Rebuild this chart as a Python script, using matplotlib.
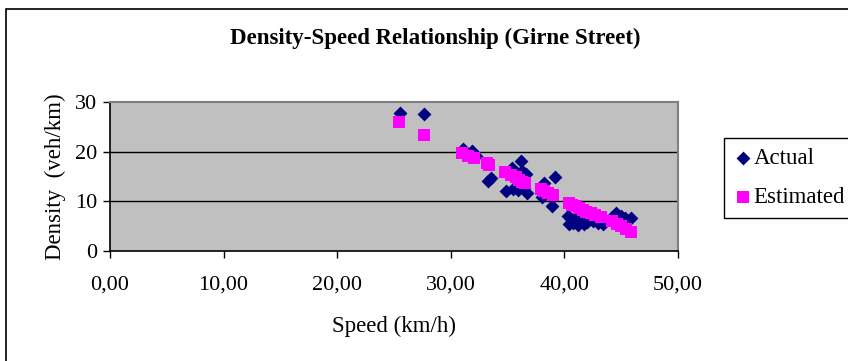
import matplotlib.pyplot as plt
from matplotlib.patches import Rectangle
from matplotlib.ticker import FuncFormatter

# data (speed km/h, density veh/km)
actual_speed = [25.5, 27.6, 31.1, 31.9, 32.2, 33.3, 33.5, 34.9, 35.4, 35.5,
                35.9, 36.2, 36.3, 36.4, 36.6, 36.7, 38.0, 38.2, 38.9, 39.2,
                40.3, 40.4, 40.6, 40.8, 41.0, 41.2, 41.4, 41.7, 42.0, 42.5,
                43.0, 43.4, 44.2, 44.5, 45.0, 45.3, 45.9]
actual_density = [27.7, 27.6, 20.5, 20.1, 19.2, 14.0, 14.6, 12.0, 16.6, 12.4,
                  12.2, 18.1, 16.0, 12.7, 15.5, 11.6, 10.9, 13.7, 9.0, 14.8,
                  7.1, 5.4, 6.3, 5.5, 6.6, 5.1, 5.8, 5.3, 5.7, 6.0,
                  5.5, 5.4, 6.8, 7.6, 7.1, 6.5, 6.6]

est_speed = [25.4, 27.6, 31.0, 31.5, 32.0, 33.2, 33.4, 34.8, 35.3, 35.7,
             36.0, 36.3, 36.5, 37.9, 38.2, 38.6, 39.0, 40.4, 40.7, 41.0,
             41.3, 41.6, 41.9, 42.3, 42.7, 43.2, 44.2, 44.6, 45.0, 45.4, 45.9]
est_density = [25.9, 23.4, 19.8, 19.2, 18.8, 17.6, 17.2, 15.8, 15.2, 14.8,
               14.3, 13.9, 13.6, 12.4, 12.0, 11.6, 11.2, 9.7, 9.3, 9.0,
               8.6, 8.2, 7.9, 7.6, 7.3, 6.8, 5.9, 5.4, 4.9, 4.4, 3.8]

x_ticks = [0, 10, 20, 30, 40, 50]
y_ticks = [0, 10, 20, 30]

plt.rcParams['font.family'] = 'Liberation Serif'

fig = plt.figure(figsize=(8.48, 3.61), dpi=100)
fig.patches.append(Rectangle((6/848, -0.05), 1.0, 1 - 9/361 + 0.05, transform=fig.transFigure,
                             fill=False, edgecolor='black', linewidth=1.2))

ax = fig.add_axes([110/848, 1 - 250.7/361, 568/848, 148.7/361])
ax.set_facecolor('#c0c0c0')

ax.scatter(actual_speed, actual_density, marker='D', s=50, color='#000080',
           linewidths=0, label='Actual', zorder=3)
ax.scatter(est_speed, est_density, marker='s', s=65, color='#ff00ff',
           linewidths=0, label='Estimated', zorder=4)

ax.set_xlim(0, 50)
ax.set_ylim(0, 30)
ax.set_xticks(x_ticks)
ax.set_yticks(y_ticks)
ax.xaxis.set_major_formatter(FuncFormatter(lambda v, p: f'{v:.2f}'.replace('.', ',')))
ax.tick_params(direction='out', length=5, width=1, labelsize=16, colors='black')
ax.tick_params(axis='x', pad=13)
ax.tick_params(axis='y', pad=4)

for y in [10, 20]:
    ax.axhline(y, color='black', linewidth=1, zorder=1)
ax.spines['top'].set_color('#808080')
ax.spines['right'].set_color('#808080')
ax.spines['top'].set_linewidth(1.5)
ax.spines['right'].set_linewidth(1.5)
ax.spines['left'].set_linewidth(1.2)
ax.spines['bottom'].set_linewidth(1.2)

ax.set_xlabel('Speed (km/h)', fontsize=16.5, labelpad=15)
ax.set_ylabel('Density  (veh/km)', fontsize=16.5, labelpad=7)

fig.text(435/848, 1 - 38/361, 'Density-Speed Relationship (Girne Street)',
         ha='center', va='center', fontsize=16.5, fontweight='bold')

fig.legend(loc='upper left', bbox_to_anchor=(724/848, 1 - 138/361), fontsize=16.5,
           frameon=True, fancybox=False, edgecolor='black', framealpha=1,
           handletextpad=0.05, borderpad=0.45, labelspacing=0.75,
           handlelength=0.8, borderaxespad=0)

fig.savefig('out.png', dpi=100)
